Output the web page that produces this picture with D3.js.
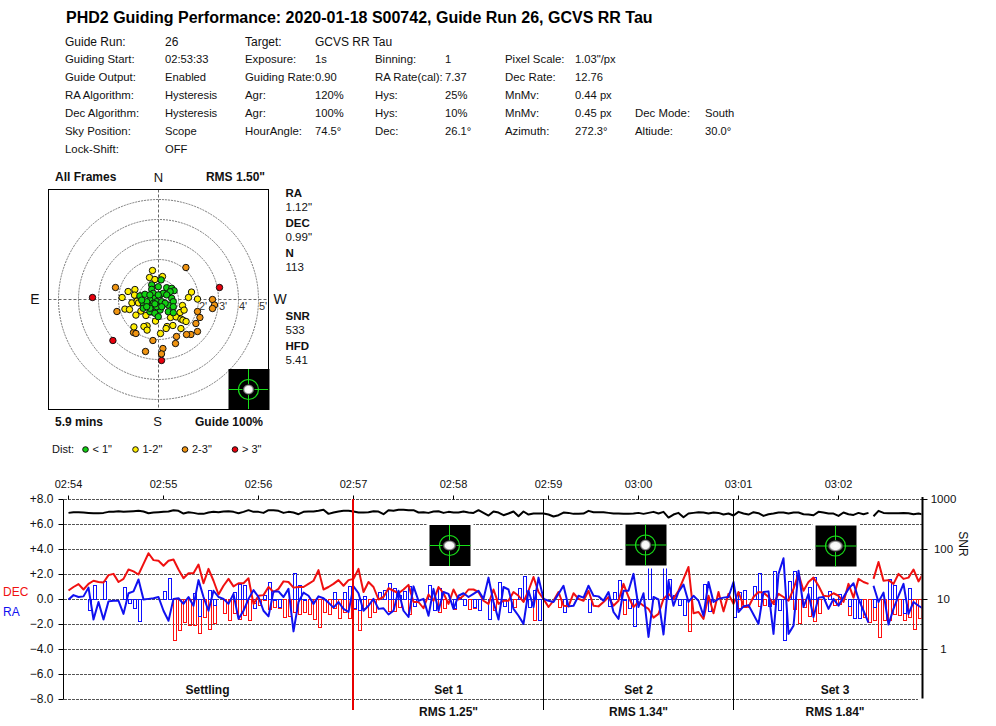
<!DOCTYPE html>
<html>
<head>
<title>PHD2 Guiding Performance</title>
<script src="https://d3js.org/d3.v7.min.js"></script>
<style>
body { margin: 0; background: #fff; }
text { font-family: "Liberation Sans", Arial, sans-serif; fill: #111; }
</style>
</head>
<body>
<svg id="chart" width="996" height="726"></svg>
<script>
var titleText = 'PHD2 Guiding Performance: 2020-01-18 S00742, Guide Run 26, GCVS RR Tau';

// header table, label/value pairs per row
var infoRows = [
    [['Guide Run:', '26'], ['Target:', 'GCVS RR Tau']],
    [['Guiding Start:', '02:53:33'], ['Exposure:', '1s'], ['Binning:', '1'], ['Pixel Scale:', '1.03"/px']],
    [['Guide Output:', 'Enabled'], ['Guiding Rate:', '0.90'], ['RA Rate(cal):', '7.37'], ['Dec Rate:', '12.76']],
    [['RA Algorithm:', 'Hysteresis'], ['Agr:', '120%'], ['Hys:', '25%'], ['MnMv:', '0.44 px']],
    [['Dec Algorithm:', 'Hysteresis'], ['Agr:', '100%'], ['Hys:', '10%'], ['MnMv:', '0.45 px'], ['Dec Mode:', 'South']],
    [['Sky Position:', 'Scope'], ['HourAngle:', '74.5°'], ['Dec:', '26.1°'], ['Azimuth:', '272.3°'], ['Altiude:', '30.0°']],
    [['Lock-Shift:', 'OFF']]
];

// target scatter, [x, y] offsets in arcsec
var ptsGreen = [[.13,.98],[-.34,.73],[-.01,.64],[.41,.59],[.66,.56],[.78,.44],[.58,.39],[-.93,.18],[-.68,.26],[-.34,.51],
    [-.26,.31],[.08,.23],[.24,.31],[.41,.23],[-.18,.06],[-.43,-.03],[-.09,-.11],[.16,-.11],[-.76,-.19],[-.51,-.28],
    [-.26,-.19],[.66,.06],[.74,-.11],[.49,-.28],[.74,-.36],[-.76,-.44],[-.43,-.61],[-.18,-.53],[.08,-.53],[.49,-.61],
    [.74,-.66],[-.34,-.36],[-.59,-.11],[-.43,.23],[-.01,.23],[.33,-.19],[-.09,-.36],[.16,-.36],[-.84,-.03],[-.18,-.69],
    [-.43,-.44],[-.01,-.86],[-.59,-.36],[-.18,-.22]];
var ptsYellow = [[-.30,1.45],[-.45,1.10],[-.18,1.00],[.20,1.15],[-1.52,.40],[-1.18,.50],[-1.82,.10],[-1.33,-.17],[-1.10,.13],[-1.07,-.08],
    [-1.00,-.17],[-1.68,-.48],[-1.45,-.50],[-.88,-.58],[-1.13,-.78],[-.63,-.80],[-.57,-1.32],[-.73,-1.35],[-.57,-1.53],[-1.23,-1.37],
    [.10,-1.70],[.43,-1.35],[.38,-1.45],[.72,-1.30],[1.12,-1.45],[.60,-.90],[.88,-.87],[1.12,-.98],[1.22,-1.03],[1.38,-1.10],
    [1.65,.37],[1.50,.10],[1.95,.02],[1.20,-.30],[1.08,-.65],[1.28,-.53],[-.15,-1.08],[-1.2,.22],[-.88,.17],[-.38,-.62]];
var ptsOrange = [[1.37,1.60],[-2.15,.60],[-2.08,-.60],[2.70,0],[2.80,-.28],[2.70,-.45],[1.95,-.60],[2.07,-.90],[1.87,-1.20],[1.95,-1.60],
    [1.62,-1.75],[1.40,-1.75],[.90,-1.85],[.85,-2.20],[-.28,-2.05],[-1.25,-1.65],[-1.13,-1.70],[-.65,-2.60],[.22,-2.45],[.15,-2.72]];
var ptsRed = [[3.05,.60],[-3.30,.10],[-2.28,-2.05],[.15,-3.05]];
var ringValues = [1, 2, 3, 4, 5];
var ringLabels = [2, 3, 4, 5];
var legendItems = ['< 1"', '1-2"', '2-3"', '> 3"'];

// time series, one entry per guide frame
var decLine = [.72,1.0,1.23,.8,1.25,1.5,1.4,1.36,1.95,2.05,
    1.4,1.65,2.4,2.25,2.0,2.85,3.7,3.15,3.1,2.7,
    3.1,3.2,2.4,1.7,2.1,2.1,2.8,1.3,2.45,1.5,
    .4,1.1,1.65,1.05,1.3,1.3,1.7,-.35,.3,.35,
    1.0,.6,.85,1.45,1.4,.95,1.0,1.0,1.25,1.5,
    2.35,.8,1.0,1.25,1.55,1.1,1.55,1.65,2.45,.6,
    1.4,1.0,0,.2,.9,.7,.5,.8,1.17,-.2,
    -.2,-.7,.4,-.1,1.0,.5,-.35,.8,0,.3,
    .8,.8,.6,-.1,-.35,.8,-.35,-.1,-.1,.6,
    .3,-.2,.7,1.8,.6,.05,-.6,-.1,.6,-.5,
    -.55,.5,.05,-.1,.7,-.5,-.55,-.2,.2,-.5,
    -.1,1.25,.2,-.6,-.2,-.5,-.75,-1.45,-1.15,.05,
    .45,.05,.7,1.65,2.6,-1.1,-1,-1.55,.3,-1.1,
    .6,-.95,.45,-.35,.6,-.5,-.6,.2,.6,.55,
    .2,-.35,.45,.2,-.1,.85,2.05,.7,1.4,1.75,
    1.1,.3,.25,.5,.3,-.2,1.25,.15,1.65,1.4,
    1.25,1.65,3.0,1.5,1.55,1.25,2.05,1.65,1.75,2.4,
    1.45,2.1];
var raLine = [0,.35,.2,.25,.95,-1.6,-.2,-1.6,-.15,-.1,
    -.1,-1.15,.5,.65,1.6,0,.05,.1,.2,-.9,
    -1.7,.05,.1,-.35,.2,-.5,1.55,.2,-.9,.7,
    .2,.05,-.35,.45,-1.55,-.9,.05,.75,.2,-.9,
    -1.35,.65,.65,.2,.85,-2.55,-.2,.55,.3,-.35,
    .25,.1,-.25,-.65,-.2,-.75,-1.0,1.05,.5,-.9,
    -.5,.05,-.75,-.7,-1.2,-.9,.7,-.9,-1.4,1.05,
    -.1,.05,-1.3,.85,-.9,.6,.45,-.75,.3,.5,
    .2,.45,.7,.05,1.75,-.2,-1.6,1.0,.8,-.75,
    -1.3,-1.95,.7,-.6,1.75,.05,-.1,-.2,.45,1.1,
    -.55,-.5,.3,.15,1.1,.3,.25,-.1,.6,-1,
    -1.55,.7,.7,2.05,-.6,.5,-3,.2,0,-2.8,
    1.5,-.5,.6,1.2,-.2,.3,-.1,-1.3,1.4,-.2,
    .05,.15,.2,1.4,-1,-.55,-.45,-1.2,-1.95,.6,
    .65,-2.75,2.05,3.3,-2.75,-2.1,2.3,-.6,.45,-1.4,
    .15,.2,-.75,.05,-.5,.2,.85,1.3,.05,-.9,
    -1.85,1.1,-.2,.55,-2,-.75,.3,1.25,-1.15,-.2,
    -.5,-.75];
var decBars = [0,0,0,0,0,0,0,0,0,0,
    0,0,0,0,0,0,0,0,0,0,
    0,-3.3,-2.5,-1.8,-2.1,-2.05,-2.75,-1.4,-2.4,-1.9,
    0,-1.15,-1.7,-1.15,-1.6,-1.3,-1.7,-.35,-.5,-.05,
    -.8,-.6,-.75,-1.45,-1.35,-1,-1.2,-1,-1.2,-1.6,
    -2.25,-1,-1.2,-.75,-1.55,-1,-1.55,-.8,-2.5,-.75,
    -1.4,-1,0,0,-.95,-.95,-.6,0,-1.2,0,
    0,0,0,0,-1,-.7,0,-.8,0,0,
    -.8,-.75,0,0,0,-.85,0,0,0,-.6,
    0,0,-.6,-1.7,0,0,0,0,-.6,0,
    0,0,0,0,0,0,0,0,0,0,
    0,-1.2,0,0,0,0,0,0,0,0,
    0,0,0,-1.25,-2.55,0,0,0,0,0,
    0,0,0,0,-.75,-.6,0,0,-.55,-.45,
    0,-.4,0,0,0,-.8,-1.95,-.65,-1.35,-1.75,
    -1.15,0,0,-.5,-.4,0,-1.3,0,-1.5,-1.4,
    -1.85,-1.7,-3,-1.7,-1.7,-1.2,-1.3,-1.7,-1.45,-2.4,
    -1.5,-2.2];
var raBars = [0,0,0,0,-.9,1.1,0,1.45,0,0,
    0,.95,-.3,-.7,-1.75,0,0,0,0,.65,
    1.7,0,0,0,0,.5,-1.35,0,.7,-.5,
    0,0,0,.55,1.2,1.15,0,-.75,0,.3,
    1.4,-.1,-.65,0,0,2.1,1.1,-.1,0,0,
    0,0,0,.6,0,.6,1.05,-.75,-.9,.25,
    0,0,.6,.7,1.3,.85,.3,.65,1.05,-.55,
    0,0,1.1,-.85,.9,0,0,-.7,.2,-.5,
    0,-.6,-.9,0,-1.6,0,1.35,-.55,-1,0,
    .9,1.85,-.6,.7,-1.65,0,0,0,0,-1.05,
    0,0,0,0,-1.05,0,0,0,-.55,.55,
    1.5,-.1,-.7,-2.15,0,0,2.6,0,0,2.6,
    1.6,.3,-.5,-1.3,0,0,0,1.2,-.95,0,
    0,0,0,-1.4,.6,.75,0,1.05,2.1,0,
    -.55,2.25,-.9,-3.3,1.45,2.25,0,0,1.0,1.75,
    0,0,.65,0,.4,0,-.55,-1.5,-1.5,0,
    0,-.6,0,0,1.6,1.15,0,-1.1,.9,0,
    0,0];
var snrLine = [540,557,557,549,540,532,532,540,566,566,
    584,566,575,584,593,575,532,549,557,566,
    575,612,593,524,557,540,516,516,549,566,
    557,575,584,566,532,566,612,566,566,540,
    612,612,593,540,566,549,508,566,575,575,
    593,621,516,549,575,593,593,575,549,549,
    557,584,575,508,612,593,621,621,612,612,
    549,557,540,575,584,540,566,549,549,575,
    549,540,612,540,478,575,549,485,524,575,
    463,575,500,524,524,524,500,456,485,549,
    540,516,516,524,593,557,557,557,540,524,
    524,516,516,524,540,516,540,566,524,566,
    435,500,540,442,524,540,557,549,524,549,
    540,500,524,478,566,524,500,557,532,470,
    508,524,549,549,524,549,549,508,500,485,
    566,549,524,524,470,549,508,492,540,508,
    540,463,593,540,532,532,532,540,532,508,
    524,500];
var gapAfter = 160;

var timeTicks = [0, 19, 38, 57, 77, 96, 114, 134, 154];
var timeLabels = ['02:54', '02:55', '02:56', '02:57', '02:58', '02:59', '03:00', '03:01', '03:02'];
var yTicks = [8, 6, 4, 2, 0, -2, -4, -6, -8];
var snrTicks = [1, 10, 100, 1000];
var setBounds = [57, 95, 133];
var setLabels = ['Settling', 'Set 1', 'Set 2', 'Set 3'];
var setLabelIdx = [27.8, 76, 114, 153.3];
var setRms = ['', 'RMS 1.25"', 'RMS 1.34"', 'RMS 1.84"'];

var svg = d3.select('#chart');

function addText(x, y, str, size, opts){
    opts = opts || {};
    return svg.append('text')
        .attr('x', x)
        .attr('y', y)
        .attr('font-size', size)
        .attr('font-weight', opts.bold ? 'bold' : null)
        .attr('text-anchor', opts.anchor || 'start')
        .style('fill', opts.color || null)
        .text(str);
}

// header
addText(66, 23, titleText, 16, {bold: true}).style('fill', '#000');

var columnX = [65, 165, 245, 315, 375, 445, 505, 575, 635, 705];
var rowY = [46, 63, 81, 99, 117, 135, 153];
infoRows.forEach(function(row, r){
    row.forEach(function(pair, c){
        addText(columnX[c * 2], rowY[r], pair[0], r === 0 ? 12 : 11.4);
        addText(columnX[c * 2 + 1], rowY[r], pair[1], r === 0 ? 12 : 11.2);
    });
});

// star thumbnail, a black box with a green reticle
var defs = svg.append('defs');
var grad = defs.append('radialGradient').attr('id', 'starGlow');
grad.append('stop').attr('offset', '0%').attr('stop-color', '#fff');
grad.append('stop').attr('offset', '60%').attr('stop-color', '#f4f4f4');
grad.append('stop').attr('offset', '100%').attr('stop-color', '#000');

function drawStar(parent, cx, cy, rx, ry, margin){
    if (margin){
        parent.append('rect').attr('x', cx - 20 - margin).attr('y', cy - 20.5 - margin)
            .attr('width', 41 + 2 * margin).attr('height', 41 + 2 * margin).attr('fill', '#fff');
    }
    parent.append('rect').attr('x', cx - 20).attr('y', cy - 20.5)
        .attr('width', 41).attr('height', 41).attr('fill', '#000');
    parent.append('circle').attr('cx', cx).attr('cy', cy).attr('r', 10)
        .attr('fill', 'none').attr('stroke', '#18d818').attr('stroke-width', 1.2);
    parent.append('line').attr('x1', cx - 20).attr('x2', cx + 21).attr('y1', cy).attr('y2', cy)
        .attr('stroke', '#18e018');
    parent.append('line').attr('x1', cx).attr('x2', cx).attr('y1', cy - 20.5).attr('y2', cy + 20.5)
        .attr('stroke', '#18e018');
    parent.append('ellipse').attr('cx', cx).attr('cy', cy).attr('rx', rx).attr('ry', ry)
        .attr('fill', 'url(#starGlow)');
}

// target plot
var tx = d3.scaleLinear().domain([-5.5, 5.5]).range([48.5, 268.5]);
var ty = d3.scaleLinear().domain([-5.5, 5.5]).range([409.5, 189.5]);
var target = svg.append('g');

target.selectAll('circle.ring').data(ringValues).enter().append('circle')
    .attr('class', 'ring')
    .attr('cx', tx(0)).attr('cy', ty(0))
    .attr('r', function(d){ return tx(d) - tx(0); })
    .attr('fill', 'none').attr('stroke', '#777').attr('stroke-dasharray', '2,1');
target.append('line').attr('x1', tx(-5.5)).attr('x2', tx(5.5)).attr('y1', ty(0)).attr('y2', ty(0))
    .attr('stroke', '#666').attr('stroke-dasharray', '3,2');
target.append('line').attr('x1', tx(0)).attr('x2', tx(0)).attr('y1', ty(5.5)).attr('y2', ty(-5.5))
    .attr('stroke', '#666').attr('stroke-dasharray', '3,2');

ringLabels.forEach(function(d){
    addText(tx(d) + 4.5, ty(0) + 10.5, d + "'", 11, {anchor: 'middle'}).style('fill', '#333');
});

var pointGroups = [
    {pts: ptsRed, color: '#e8000c'},
    {pts: ptsOrange, color: '#f09410'},
    {pts: ptsYellow, color: '#ffee00'},
    {pts: ptsGreen, color: '#12d012'}
];
pointGroups.forEach(function(group){
    target.selectAll(null).data(group.pts).enter().append('circle')
        .attr('cx', function(d){ return tx(d[0]); })
        .attr('cy', function(d){ return ty(d[1]); })
        .attr('r', 3.2)
        .attr('fill', group.color)
        .attr('stroke', '#111')
        .attr('stroke-width', 1);
});

drawStar(target, 248.5, 389.5, 6, 5.5, 0);

target.append('rect').attr('x', 48.5).attr('y', 189.5).attr('width', 220).attr('height', 220)
    .attr('fill', 'none').attr('stroke', '#000');

addText(55, 181, 'All Frames', 12, {bold: true});
addText(158.5, 181.5, 'N', 13, {anchor: 'middle'});
addText(265, 181, 'RMS 1.50"', 12, {bold: true, anchor: 'end'});
addText(55, 426, '5.9 mins', 12, {bold: true});
addText(157.5, 426, 'S', 13, {anchor: 'middle'});
addText(263, 426, 'Guide 100%', 12, {bold: true, anchor: 'end'});
addText(35, 304, 'E', 14, {anchor: 'middle'});
addText(280, 304, 'W', 14, {anchor: 'middle'});

var sideStats = [['RA', '1.12"', 197.4], ['DEC', '0.99"', 227.4], ['N', '113', 257.4], ['SNR', '533', 320.4], ['HFD', '5.41', 350.4]];
sideStats.forEach(function(s){
    addText(285.5, s[2], s[0], 11.5, {bold: true});
    addText(285.5, s[2] + 13.3, s[1], 11.5);
});

addText(52, 453, 'Dist:', 11);
var legendX = [85.5, 135.5, 185, 235];
var legendColors = ['#12d012', '#ffee00', '#f09410', '#e8000c'];
legendItems.forEach(function(label, i){
    svg.append('circle').attr('cx', legendX[i]).attr('cy', 449.5).attr('r', 2.8)
        .attr('fill', legendColors[i]).attr('stroke', '#111');
    addText(legendX[i] + 7, 453, label, 11);
});

// time series
var x = d3.scaleLinear().domain([0, 171]).range([68.5, 923.5]);
var y = d3.scaleLinear().domain([-8, 8]).range([699.5, 499.5]);
var snrY = d3.scaleLog().domain([1, 1000]).range([y(-4), y(8)]);

defs.append('clipPath').attr('id', 'plotClip').append('rect')
    .attr('x', 64).attr('y', 495).attr('width', 857.5).attr('height', 210);

svg.selectAll('line.grid').data(yTicks).enter().append('line')
    .attr('class', 'grid')
    .attr('x1', 64).attr('x2', function(d){ return d === -8 ? 918 : 922; })
    .attr('y1', function(d){ return y(d); }).attr('y2', function(d){ return y(d); })
    .attr('stroke', '#555').attr('stroke-dasharray', '3,1');

var plot = svg.append('g').attr('clip-path', 'url(#plotClip)');

var yAxis = d3.axisLeft(y).tickValues(yTicks).tickSize(5).tickSizeOuter(0).tickPadding(5).offset(0)
    .tickFormat(function(d){ return d === 0 ? '0.0' : d3.format('+.1f')(d); });
var gy = svg.append('g').attr('transform', 'translate(63.5,0)').call(yAxis);
gy.selectAll('text').attr('font-size', 12).attr('font-family', null);

var xAxis = d3.axisTop(x).tickValues(timeTicks).tickSize(4).tickPadding(8).offset(0)
    .tickFormat(function(d, i){ return timeLabels[i]; });
var gx = svg.append('g').attr('transform', 'translate(0,499.5)').call(xAxis);
gx.select('.domain').remove();
gx.selectAll('text').attr('font-size', 11).attr('font-family', null);

var snrAxis = d3.axisRight(snrY).tickValues(snrTicks).tickSize(5).tickPadding(9).offset(0)
    .tickFormat(d3.format('d'));
var gsnr = svg.append('g').attr('transform', 'translate(922.5,0)').call(snrAxis);
gsnr.select('.domain').remove();
gsnr.selectAll('text').attr('font-size', 11.5).attr('font-family', null)
    .attr('text-anchor', 'middle').attr('x', 21);
svg.append('line').attr('x1', 922.5).attr('x2', 922.5).attr('y1', 497).attr('y2', 698.5)
    .attr('stroke', '#000').attr('stroke-width', 2);

function drawBars(values, color){
    plot.selectAll(null).data(d3.range(values.length).filter(function(i){ return values[i] !== 0; }))
        .enter().append('rect')
        .attr('x', function(i){ return x(i); })
        .attr('y', function(i){ return values[i] > 0 ? y(values[i]) : y(0); })
        .attr('width', 3)
        .attr('height', function(i){ return Math.abs(y(values[i]) - y(0)); })
        .attr('fill', 'none')
        .attr('stroke', color)
        .attr('shape-rendering', 'crispEdges');
}
drawBars(decBars, '#ff1010');
drawBars(raBars, '#1010ff');

function drawSeries(values, yScale, color, width){
    var line = d3.line()
        .x(function(d){ return x(d.i); })
        .y(function(d){ return yScale(d.v); });
    var pts = values.map(function(v, i){ return {i: i, v: v}; });
    [pts.slice(0, gapAfter + 1), pts.slice(gapAfter + 1)].forEach(function(seg){
        plot.append('path').attr('d', line(seg))
            .attr('fill', 'none').attr('stroke', color).attr('stroke-width', width)
            .attr('stroke-linejoin', 'round');
    });
}
drawSeries(snrLine, snrY, '#000', 2);
drawSeries(decLine, y, '#f01010', 2);
drawSeries(raLine, y, '#1010f0', 2);

// run markers, the settling end is red
setBounds.forEach(function(b, i){
    svg.append('line').attr('x1', i === 0 ? x(b) - .5 : x(b)).attr('x2', i === 0 ? x(b) - .5 : x(b))
        .attr('y1', 499).attr('y2', 710)
        .attr('stroke', i === 0 ? '#e80000' : '#000').attr('stroke-width', i === 0 ? 2 : 1);
});

var starCentres = [[449.5, 545.5, 7, 5.5], [645.5, 545, 6, 6], [835.5, 546, 8, 6]];
starCentres.forEach(function(s){
    drawStar(svg.append('g'), s[0], s[1], s[2], s[3], 3);
});

setLabels.forEach(function(label, i){
    addText(x(setLabelIdx[i]), 694, label, 12, {bold: true, anchor: 'middle'});
    if (setRms[i]) addText(x(setLabelIdx[i]), 716, setRms[i], 12, {bold: true, anchor: 'middle'});
});

addText(3, 596, 'DEC', 12, {color: '#f01010'});
addText(3, 616, 'RA', 12, {color: '#1010f0'});
addText(0, 0, 'SNR', 12, {anchor: 'middle'}).attr('transform', 'translate(959,544) rotate(90)');
</script>
</body>
</html>
